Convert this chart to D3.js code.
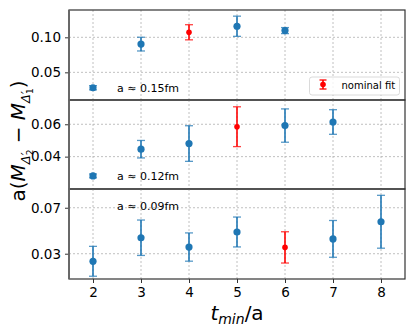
<!DOCTYPE html>
<html>
<head>
<meta charset="utf-8">
<script src="https://cdn.jsdelivr.net/npm/d3@7"></script>
<style>
  body { margin: 0; background: #fff; }
  text { font-family: "DejaVu Sans", sans-serif; }
</style>
</head>
<body>
<div id="chart-container"></div>
<script>
// t_min/a values and tick labels
const tminTicks = [2, 3, 4, 5, 6, 7, 8];

// a ~ 0.15 fm
const tmin015 = [2, 3, 4, 5, 6];
const val015 = [0.028, 0.0903, 0.1072, 0.1158, 0.1096];
const err015 = [0.003, 0.0098, 0.0108, 0.0144, 0.0043];
const nominal015 = 4;

// a ~ 0.12 fm
const tmin012 = [2, 3, 4, 5, 6, 7];
const val012 = [0.0281, 0.0446, 0.0481, 0.0585, 0.0592, 0.0614];
const err012 = [0.0012, 0.0054, 0.011, 0.0123, 0.0103, 0.0076];
const nominal012 = 5;

// a ~ 0.09 fm
const tmin009 = [2, 3, 4, 5, 6, 7, 8];
const val009 = [0.0234, 0.0439, 0.0358, 0.0489, 0.0355, 0.0429, 0.0578];
const err009 = [0.013, 0.0154, 0.0123, 0.013, 0.0136, 0.016, 0.023];
const nominal009 = 6;

const yTicks015 = [0.05, 0.10];
const yTicks012 = [0.04, 0.06];
const yTicks009 = [0.03, 0.07];

const panels = [
  { label: "a \u2248 0.15fm", x: tmin015, y: val015, e: err015, nominal: nominal015,
    domain: [0.0105, 0.139], ticks: yTicks015, fmt: ".2f", top: 10, bottom: 100, labelY: 0.028 },
  { label: "a \u2248 0.12fm", x: tmin012, y: val012, e: err012, nominal: nominal012,
    domain: [0.020, 0.075], ticks: yTicks012, fmt: ".2f", top: 100, bottom: 189, labelY: 0.0281 },
  { label: "a \u2248 0.09fm", x: tmin009, y: val009, e: err009, nominal: nominal009,
    domain: [0.008, 0.0863], ticks: yTicks009, fmt: ".2f", top: 189, bottom: 279, labelY: 0.0712 }
];

const W = 415, H = 328;
const left = 69, right = 405;
const blue = "#1f77b4", red = "#ff0000";

const svg = d3.select("#chart-container").append("svg")
  .attr("width", W).attr("height", H);

const x = d3.scaleLinear().domain([1.5, 8.5]).range([left, right]);

panels.forEach(function (p, pi) {
  const y = d3.scaleLinear().domain(p.domain).range([p.bottom, p.top]);
  const g = svg.append("g");

  // grid lines
  g.selectAll(".gx").data(tminTicks).enter().append("line")
    .attr("x1", d => x(d)).attr("x2", d => x(d))
    .attr("y1", p.top).attr("y2", p.bottom)
    .attr("stroke", "#b0b0b0").attr("stroke-width", 0.8).attr("stroke-dasharray", "2,2");
  g.selectAll(".gy").data(p.ticks).enter().append("line")
    .attr("x1", left).attr("x2", right)
    .attr("y1", d => y(d)).attr("y2", d => y(d))
    .attr("stroke", "#b0b0b0").attr("stroke-width", 0.8).attr("stroke-dasharray", "2,2");

  // y axis
  const ax = g.append("g")
    .attr("transform", `translate(${left},0)`)
    .call(d3.axisLeft(y).tickValues(p.ticks).tickFormat(d3.format(p.fmt)).tickSize(4).tickPadding(4));
  ax.select(".domain").remove();
  ax.selectAll("line").attr("stroke", "#333");
  ax.selectAll("text").attr("font-size", "13.5px").attr("fill", "#000");

  // points with error bars
  const data = p.x.map((t, i) => ({ t: t, v: p.y[i], e: p.e[i], nom: t === p.nominal }));
  const pts = g.selectAll(".pt").data(data).enter().append("g");
  pts.append("line")
    .attr("x1", d => x(d.t)).attr("x2", d => x(d.t))
    .attr("y1", d => y(d.v - d.e)).attr("y2", d => y(d.v + d.e))
    .attr("stroke", d => d.nom ? red : blue).attr("stroke-width", 1.6);
  [-1, 1].forEach(function (s) {
    pts.append("line")
      .attr("x1", d => x(d.t) - 4).attr("x2", d => x(d.t) + 4)
      .attr("y1", d => y(d.v + s * d.e)).attr("y2", d => y(d.v + s * d.e))
      .attr("stroke", d => d.nom ? red : blue).attr("stroke-width", 1.3).attr("stroke-opacity", 0.75);
  });
  pts.append("circle")
    .attr("cx", d => x(d.t)).attr("cy", d => y(d.v))
    .attr("r", d => d.nom ? 2.8 : 3.6)
    .attr("fill", d => d.nom ? red : blue);

  // panel label
  g.append("text")
    .attr("x", 117).attr("y", y(p.labelY)).attr("dy", "0.35em")
    .attr("font-size", "11px").text(p.label);

  // frame
  g.append("rect")
    .attr("x", left).attr("y", p.top)
    .attr("width", right - left).attr("height", p.bottom - p.top)
    .attr("fill", "none").attr("stroke", "#333").attr("stroke-width", 1.2);
});

// left spine slightly heavier gray
svg.append("line")
  .attr("x1", left).attr("x2", left).attr("y1", 10).attr("y2", 279)
  .attr("stroke", "#666").attr("stroke-width", 1.8);

// x axis
const xa = svg.append("g")
  .attr("transform", "translate(0,279)")
  .call(d3.axisBottom(x).tickValues(tminTicks).tickFormat(d3.format("d")).tickSize(4).tickPadding(4));
xa.select(".domain").remove();
xa.selectAll("line").attr("stroke", "#333");
xa.selectAll("text").attr("font-size", "13.5px").attr("fill", "#000");

// legend
const lg = svg.append("g");
lg.append("rect")
  .attr("x", 309.5).attr("y", 77).attr("width", 90).attr("height", 18).attr("rx", 2.5)
  .attr("fill", "#fff").attr("fill-opacity", 0.8).attr("stroke", "#d0d0d0").attr("stroke-width", 0.8);
lg.append("line").attr("x1", 323).attr("x2", 323).attr("y1", 80).attr("y2", 89)
  .attr("stroke", red).attr("stroke-width", 1.6);
lg.append("line").attr("x1", 319.5).attr("x2", 326.5).attr("y1", 80).attr("y2", 80)
  .attr("stroke", red).attr("stroke-width", 1.3);
lg.append("line").attr("x1", 319.5).attr("x2", 326.5).attr("y1", 89).attr("y2", 89)
  .attr("stroke", red).attr("stroke-width", 1.3);
lg.append("circle").attr("cx", 323).attr("cy", 84.5).attr("r", 2.8).attr("fill", red);
lg.append("text").attr("x", 341.5).attr("y", 88.5).attr("font-size", "10px").text("nominal fit");

// x label
const xl = svg.append("text")
  .attr("x", 237).attr("y", 320).attr("text-anchor", "middle").attr("font-size", "20px");
xl.append("tspan").attr("font-style", "italic").text("t");
xl.append("tspan").attr("font-style", "italic").attr("font-size", "14px").attr("dy", 4).text("min");
xl.append("tspan").attr("dy", -4).text("/a");

// y label
const yl = svg.append("text")
  .attr("transform", "translate(25,141) rotate(-90)")
  .attr("text-anchor", "middle").attr("font-size", "20px");
yl.append("tspan").text("a(");
yl.append("tspan").attr("font-style", "italic").text("M");
yl.append("tspan").attr("font-style", "italic").attr("font-size", "13px").attr("dy", 5).text("\u0394\u2032");
yl.append("tspan").attr("font-size", "9px").attr("dy", 3).attr("dx", -3).text("2");
yl.append("tspan").attr("dy", -8).text(" \u2212 ");
yl.append("tspan").attr("font-style", "italic").text("M");
yl.append("tspan").attr("font-style", "italic").attr("font-size", "13px").attr("dy", 5).text("\u0394\u2032");
yl.append("tspan").attr("font-size", "9px").attr("dy", 3).attr("dx", -3).text("1");
yl.append("tspan").attr("dy", -8).text(")");
</script>
</body>
</html>
